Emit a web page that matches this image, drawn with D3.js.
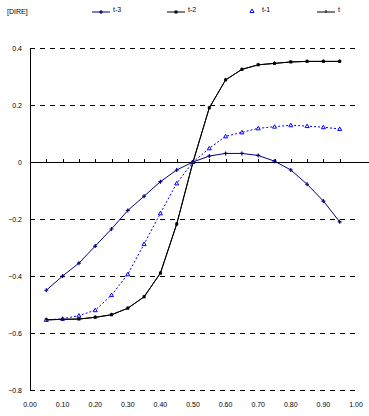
<!DOCTYPE html>
<html>
<head>
<meta charset="utf-8">
<script src="https://cdn.jsdelivr.net/npm/d3@7"></script>
<style>
  body { margin: 0; background: #fff; }
  svg { display: block; font-family: "Liberation Sans", Arial, sans-serif; }
</style>
</head>
<body>
<div id="chart"></div>
<script>
// ===== DATA =====
const xValues = [0.05, 0.10, 0.15, 0.20, 0.25, 0.30, 0.35, 0.40, 0.45, 0.50,
                 0.55, 0.60, 0.65, 0.70, 0.75, 0.80, 0.85, 0.90, 0.95];
const seriesNames = ["t-3", "t-2", "t-1", "t"];
const tMinus3 = [-0.45, -0.40, -0.355, -0.295, -0.235, -0.17, -0.12, -0.069, -0.028, 0,
                 0.021, 0.03, 0.03, 0.023, 0.003, -0.028, -0.078, -0.137, -0.21];
const tMinus2 = [-0.554, -0.552, -0.551, -0.545, -0.536, -0.513, -0.473, -0.39, -0.218, 0,
                 0.19, 0.288, 0.325, 0.341, 0.346, 0.351, 0.353, 0.353, 0.353];
const tMinus1 = [-0.554, -0.55, -0.539, -0.52, -0.467, -0.394, -0.288, -0.18, -0.075, 0,
                 0.048, 0.09, 0.104, 0.118, 0.124, 0.129, 0.126, 0.122, 0.116];
const tNow = [-0.554, -0.552, -0.551, -0.545, -0.536, -0.513, -0.473, -0.39, -0.218, 0,
              0.19, 0.288, 0.325, 0.341, 0.346, 0.351, 0.353, 0.353, 0.353];
const yTicks = [0.4, 0.2, 0, -0.2, -0.4, -0.6, -0.8];
const xTicks = [0, 0.1, 0.2, 0.3, 0.4, 0.5, 0.6, 0.7, 0.8, 0.9, 1.0];
const title = "[DIRE]";

const width = 369, height = 416;
const svg = d3.select('#chart').append('svg')
    .attr('width', width)
    .attr('height', height);

const x = d3.scaleLinear().domain([0, 1]).range([30, 356]);
const y = d3.scaleLinear().domain([-0.8, 0.4]).range([390, 48]);

// Gridlines (dashed), zero line solid
svg.append('g')
    .selectAll('line')
    .data(yTicks.filter(d => d !== 0))
    .enter().append('line')
    .attr('x1', x(0)).attr('x2', 355)
    .attr('y1', d => y(d)).attr('y2', d => y(d))
    .attr('stroke', '#000')
    .attr('stroke-width', 1)
    .attr('stroke-dasharray', '5,5')
    .attr('shape-rendering', 'crispEdges');

svg.append('line')
    .attr('x1', x(0)).attr('x2', 369)
    .attr('y1', y(0)).attr('y2', y(0))
    .attr('stroke', '#000')
    .attr('shape-rendering', 'crispEdges');

// category ticks on the zero line
svg.append('g')
    .selectAll('line')
    .data(xValues)
    .enter().append('line')
    .attr('x1', d => Math.round(x(d)) + 0.5).attr('x2', d => Math.round(x(d)) + 0.5)
    .attr('y1', y(0)).attr('y2', y(0) - 3)
    .attr('stroke', '#000');

// Y axis line
svg.append('line')
    .attr('x1', x(0)).attr('x2', x(0))
    .attr('y1', y(0.4)).attr('y2', y(-0.8))
    .attr('stroke', '#000')
    .attr('stroke-width', 1)
    .attr('shape-rendering', 'crispEdges');

// Y labels
svg.append('g')
    .selectAll('text')
    .data(yTicks)
    .enter().append('text')
    .attr('x', 22)
    .attr('y', d => y(d) + 2.5)
    .attr('text-anchor', 'end')
    .attr('font-size', '7px')
    .attr('fill', '#000')
    .text(d => d === 0 ? '0' : d3.format('.1f')(d));

// X labels
svg.append('g')
    .selectAll('text')
    .data(xTicks)
    .enter().append('text')
    .attr('x', d => x(d))
    .attr('y', 407)
    .attr('text-anchor', 'middle')
    .attr('font-size', '7px')
    .attr('fill', '#000')
    .text(d => d3.format('.2f')(d));

// Series
const series = [
    { name: seriesNames[0], values: tMinus3, color: '#000080', dash: null, marker: 'plus' },
    { name: seriesNames[1], values: tMinus2, color: '#000000', dash: null, marker: 'square' },
    { name: seriesNames[2], values: tMinus1, color: '#0000ff', dash: '2,2', marker: 'triangle' },
    { name: seriesNames[3], values: tNow, color: '#000000', dash: null, marker: 'tick' }
];

const line = d3.line()
    .x((d, i) => x(xValues[i]))
    .y(d => y(d));

function drawMarker(g, type, color) {
    if (type === 'plus') {
        g.append('path').attr('d', 'M-2,0H2M0,-2V2')
            .attr('stroke', color).attr('stroke-width', 1.2).attr('fill', 'none');
    } else if (type === 'square') {
        g.append('rect').attr('x', -1.5).attr('y', -1.5).attr('width', 3).attr('height', 3)
            .attr('fill', color);
    } else if (type === 'triangle') {
        g.append('path').attr('d', 'M0,-2L2,1.5H-2Z')
            .attr('stroke', color).attr('stroke-width', 1).attr('fill', '#fff');
    } else if (type === 'tick') {
        g.append('path').attr('d', 'M0,-2V1')
            .attr('stroke', color).attr('stroke-width', 1);
    }
}

series.forEach(s => {
    svg.append('path')
        .datum(s.values)
        .attr('d', line)
        .attr('fill', 'none')
        .attr('stroke', s.color)
        .attr('stroke-width', 1)
        .attr('stroke-dasharray', s.dash);

    svg.append('g')
        .selectAll('g')
        .data(s.values)
        .enter().append('g')
        .attr('transform', (d, i) => `translate(${x(xValues[i])},${y(d)})`)
        .each(function () { drawMarker(d3.select(this), s.marker, s.color); });
});

// Legend
const legendX = [92, 167, 247, 317];
series.forEach((s, i) => {
    const g = svg.append('g').attr('transform', `translate(${legendX[i]},12)`);
    if (s.marker !== 'triangle') {
        g.append('line').attr('x1', 0).attr('x2', 18).attr('y1', 0).attr('y2', 0)
            .attr('stroke', s.color).attr('stroke-width', 1);
    }
    const m = g.append('g').attr('transform', `translate(${s.marker === 'triangle' ? 5 : 9},${s.marker === 'triangle' ? -1 : 0})`);
    drawMarker(m, s.marker, s.color);
    g.append('text')
        .attr('x', s.marker === 'triangle' ? 15 : 21)
        .attr('y', 0)
        .attr('font-size', '7px')
        .attr('fill', '#000')
        .text(s.name);
});

// Title
svg.append('text')
    .attr('x', 7)
    .attr('y', 14)
    .attr('font-size', '7px')
    .attr('fill', '#000')
    .text(title);
</script>
</body>
</html>
